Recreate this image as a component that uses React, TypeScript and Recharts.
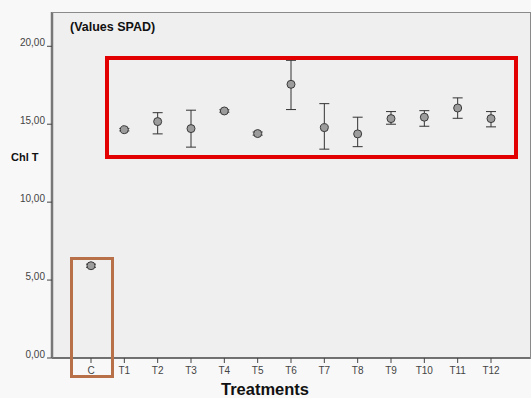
import React from 'react';
import { ComposedChart, Scatter, ErrorBar, XAxis, YAxis, CartesianGrid } from 'recharts';

const categories = ['C', 'T1', 'T2', 'T3', 'T4', 'T5', 'T6', 'T7', 'T8', 'T9', 'T10', 'T11', 'T12'];
const means = [5.92, 14.65, 15.17, 14.72, 15.85, 14.4, 17.56, 14.78, 14.38, 15.36, 15.45, 16.04, 15.36];
const errLow = [0.1, 0.08, 0.79, 1.19, 0.08, 0.1, 1.62, 1.38, 0.82, 0.36, 0.58, 0.66, 0.53];
const errHigh = [0.1, 0.08, 0.57, 1.18, 0.08, 0.1, 1.54, 1.54, 1.07, 0.45, 0.42, 0.65, 0.45];
const yTicks = [0, 5, 10, 15, 20];

const data = categories.map((name, i) => ({ name, value: means[i], err: [errLow[i], errHigh[i]] }));

const FONT = '"Liberation Sans", Arial, sans-serif';

const Dot = (props: any) => {
  const { cx, cy } = props;
  if (cx == null || cy == null) return null;
  return <circle cx={cx} cy={cy} r={4} fill="#9c9c9c" stroke="#3a3a3a" strokeWidth={1} />;
};

export default function App() {
  return (
    <div style={{ position: 'absolute', left: 0, top: 0, width: 531, height: 398, background: '#f8f8f8', overflow: 'hidden', fontFamily: FONT }}>
      <ComposedChart width={531} height={398} data={data} margin={{ top: 12, right: 1, bottom: 0, left: 0 }}>
        <CartesianGrid fill="#efefef" horizontal={false} vertical={false} />
        <XAxis
          dataKey="name"
          type="category"
          padding={{ left: 39, right: 39 }}
          axisLine={{ stroke: '#444', strokeWidth: 1.5 }}
          tickLine={{ stroke: '#444' }}
          tickSize={5}
          tickMargin={4}
          tick={{ fill: '#444', fontSize: 10, fontFamily: FONT }}
          interval={0}
          height={40}
        />
        <YAxis
          type="number"
          domain={[0, 22.2]}
          ticks={yTicks}
          width={52}
          axisLine={{ stroke: '#777', strokeWidth: 2.5 }}
          tickLine={{ stroke: '#444' }}
          tickSize={5}
          tickMargin={2}
          tick={{ fill: '#444', fontSize: 10, fontFamily: FONT, dy: -4 }}
          tickFormatter={(v: number) => v.toFixed(2).replace('.', ',')}
        />
        <Scatter dataKey="value" isAnimationActive={false} shape={<Dot />}>
          <ErrorBar dataKey="err" direction="y" width={5} stroke="#333" strokeWidth={1} />
        </Scatter>
      </ComposedChart>
      <div style={{ position: 'absolute', left: 52, top: 12, width: 478, height: 346, borderTop: '1px solid #8a8a8a', borderRight: '1px solid #8a8a8a', pointerEvents: 'none' }} />
      <div style={{ position: 'absolute', left: 105, top: 56, width: 405, height: 95, border: '4px solid #e30000', pointerEvents: 'none' }} />
      <div style={{ position: 'absolute', left: 70, top: 257, width: 38, height: 115, border: '3px solid #b87048', pointerEvents: 'none' }} />
      <div style={{ position: 'absolute', left: 70, top: 20, fontSize: 12.5, fontWeight: 'bold', color: '#111', whiteSpace: 'nowrap' }}>(Values SPAD)</div>
      <div style={{ position: 'absolute', left: 11, top: 151, fontSize: 11, fontWeight: 'bold', color: '#111', whiteSpace: 'nowrap' }}>Chl T</div>
      <div style={{ position: 'absolute', left: 221, top: 381, fontSize: 16.5, lineHeight: '16px', fontWeight: 'bold', color: '#111', whiteSpace: 'nowrap' }}>Treatments</div>
    </div>
  );
}
